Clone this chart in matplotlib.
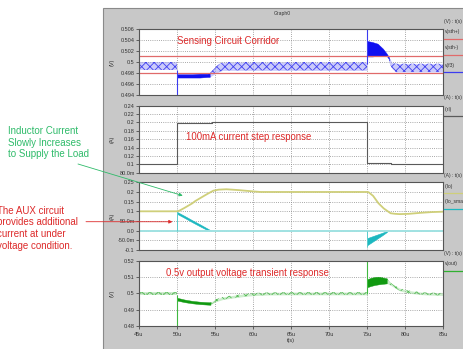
import matplotlib
matplotlib.use('Agg')
import matplotlib.pyplot as plt
from matplotlib.patches import Rectangle
from matplotlib.lines import Line2D

plt.rcParams['font.family'] = ['Liberation Sans', 'DejaVu Sans']
plt.rcParams['hatch.linewidth'] = 0.6

# ---------------- data (time in us) ----------------
x_ticks = [45, 50, 55, 60, 65, 70, 75, 80, 85]
x_ticklabels = ['45u', '50u', '55u', '60u', '65u', '70u', '75u', '80u', '85u']

# panel 1 : v(f3) with sensing corridor
p1_yticks = [0.494, 0.496, 0.498, 0.5, 0.502, 0.504, 0.506]
p1_ylabels = ['0.494', '0.496', '0.498', '0.5', '0.502', '0.504', '0.506']
vsth_plus = 0.501
vsth_minus = 0.498
vf3_rip1_t = [45, 50]
vf3_rip1_up = [0.5000, 0.5000]
vf3_rip1_lo = [0.4985, 0.4985]
vf3_den1_t = [50, 51, 52, 53, 54, 54.3]
vf3_den1_up = [0.4978, 0.4978, 0.4978, 0.4979, 0.4979, 0.4980]
vf3_den1_lo = [0.4972, 0.4972, 0.4972, 0.4972, 0.4973, 0.4973]
vf3_rip2_t = [54.3, 54.8, 55.3, 56.0, 58.0, 75.0]
vf3_rip2_up = [0.4980, 0.4987, 0.4994, 0.5000, 0.5000, 0.5000]
vf3_rip2_lo = [0.4973, 0.4977, 0.4981, 0.4985, 0.4985, 0.4985]
vf3_den2_t = [75, 75.7, 76.4, 77.1, 77.6, 77.9]
vf3_den2_up = [0.5038, 0.5036, 0.5033, 0.5024, 0.5015, 0.5008]
vf3_den2_lo = [0.5010, 0.5010, 0.5011, 0.5011, 0.5011, 0.5005]
vf3_rip3_t = [77.9, 78.3, 78.8, 85.0]
vf3_rip3_up = [0.5008, 0.4999, 0.4997, 0.4997]
vf3_rip3_lo = [0.5000, 0.4988, 0.4982, 0.4982]
vf3_spike_t = [50, 75]
vf3_spike_lo = [0.4938, 0.4997]
vf3_spike_hi = [0.4985, 0.5062]

# panel 2 : i(rl) load current step
p2_yticks = [0.08, 0.10, 0.12, 0.14, 0.16, 0.18, 0.20, 0.22, 0.24]
p2_ylabels = ['80.0m', '0.1', '0.12', '0.14', '0.16', '0.18', '0.2', '0.22', '0.24']
irl_t = [45, 50, 50, 54.6, 54.6, 75, 75, 78.2, 78.2, 85]
irl_i = [0.1, 0.1, 0.1976, 0.1976, 0.2, 0.2, 0.1024, 0.1024, 0.1, 0.1]

# panel 3 : i(lo) and i(lo_smart)
p3_yticks = [-0.1, -0.05, 0.0, 0.05, 0.1, 0.15, 0.2, 0.25]
p3_ylabels = ['-0.1', '-50.0m', '0.0', '50.0m', '0.1', '0.15', '0.2', '0.25']
ilo_t = [45, 50, 50.3, 51, 52, 52.4, 53, 54, 54.8, 55.5, 56.5, 58, 60, 61, 75,
         75.2, 75.8, 76.5, 77.2, 78.1, 78.7, 79.3, 80.5, 82, 83.5, 85]
ilo_i = [0.1, 0.1, 0.103, 0.118, 0.141, 0.153, 0.167, 0.19, 0.207, 0.212, 0.214, 0.21,
         0.203, 0.2, 0.2, 0.199, 0.18, 0.142, 0.115, 0.09, 0.087, 0.0855, 0.087,
         0.092, 0.096, 0.098]
ilos_base_t = [45, 85]
ilos_base_i = [0.0, 0.0]
ilos_b1_t = [50, 51, 52, 53, 54, 54.5]
ilos_b1_up = [0.097, 0.076, 0.054, 0.033, 0.011, 0.0]
ilos_b1_lo = [0.087, 0.066, 0.044, 0.023, 0.003, 0.0]
ilos_b2_t = [75, 75.5, 76, 76.5, 77, 77.5, 77.8]
ilos_b2_up = [-0.039, -0.032, -0.025, -0.018, -0.011, -0.004, 0.0]
ilos_b2_lo = [-0.076, -0.063, -0.050, -0.037, -0.024, -0.010, 0.0]
ilos_spike_t = [50, 75]
ilos_spike_lo = [0.0, -0.083]
ilos_spike_hi = [0.097, 0.0]

# panel 4 : v(out)
p4_yticks = [0.48, 0.49, 0.50, 0.51, 0.52]
p4_ylabels = ['0.48', '0.49', '0.5', '0.51', '0.52']
vout_rip1_t = [45, 50]
vout_rip1_up = [0.5010, 0.5010]
vout_rip1_lo = [0.4990, 0.4990]
vout_den1_t = [50, 51, 52, 53, 54, 54.4]
vout_den1_up = [0.4973, 0.4962, 0.4954, 0.4949, 0.4946, 0.4945]
vout_den1_lo = [0.4956, 0.4946, 0.4939, 0.4934, 0.4931, 0.4930]
vout_rip2_t = [54.4, 55.0, 56.0, 57.4, 59.0, 60.0, 62.0, 65.0, 75.0]
vout_rip2_up = [0.4945, 0.4963, 0.4978, 0.4988, 0.4998, 0.5002, 0.5006, 0.5008, 0.5008]
vout_rip2_lo = [0.4930, 0.4947, 0.4962, 0.4972, 0.4982, 0.4986, 0.4990, 0.4991, 0.4991]
vout_den2_t = [75, 75.5, 76, 76.5, 77, 77.6]
vout_den2_up = [0.5086, 0.5095, 0.5100, 0.5102, 0.5098, 0.5092]
vout_den2_lo = [0.5037, 0.5045, 0.5051, 0.5055, 0.5058, 0.5061]
vout_rip3_t = [77.6, 78.0, 78.5, 79.3, 80.2, 81, 82, 83, 85]
vout_rip3_up = [0.5092, 0.5068, 0.5052, 0.5032, 0.5020, 0.5014, 0.5008, 0.5005, 0.5002]
vout_rip3_lo = [0.5061, 0.5052, 0.5038, 0.5016, 0.5004, 0.4998, 0.4993, 0.4990, 0.4987]
vout_spike_t = [50, 75]
vout_spike_lo = [0.4795, 0.4995]
vout_spike_hi = [0.4990, 0.5205]

# ---------------- figure ----------------
W, H = 464, 349
fig = plt.figure(figsize=(W / 100, H / 100), dpi=100)
fig.patch.set_facecolor('white')


def rect(l, t, r, b):
    return [l / W, 1 - b / H, (r - l) / W, (b - t) / H]


def fx(x):
    return x / W


def fy(y):
    return 1 - y / H


bg = fig.add_axes([0, 0, 1, 1], zorder=-5)
bg.set_xlim(0, W)
bg.set_ylim(H, 0)
bg.axis('off')
bg.add_patch(Rectangle((103, 8), W - 103 + 3, H - 8 + 3, facecolor='#c8c8c8',
                       edgecolor='#8a8a8a', lw=0.8))

L, R = 139, 443
ax1 = fig.add_axes(rect(L, 28.7, R, 95.3))
ax2 = fig.add_axes(rect(L, 105.7, R, 172.7))
ax3 = fig.add_axes(rect(L, 182.3, R, 250))
ax4 = fig.add_axes(rect(L, 260.7, R, 326))


def style(ax, ylim, yticks, ylabels, unit, bottom=False):
    ax.set_facecolor('white')
    ax.set_xlim(45, 85)
    ax.set_ylim(*ylim)
    ax.set_xticks(x_ticks)
    ax.set_yticks(yticks)
    ax.set_yticklabels(ylabels)
    ax.grid(True, color='#8c8c8c', ls=(0, (1, 1.6)), lw=0.6)
    ax.set_axisbelow(True)
    ax.tick_params(axis='y', labelsize=4, length=2, width=0.5, pad=1,
                   colors='#333333')
    if bottom:
        ax.set_xticklabels(x_ticklabels)
        ax.tick_params(axis='x', labelsize=4, length=2, width=0.5, pad=2,
                       colors='#333333')
    else:
        ax.set_xticklabels([])
        ax.tick_params(axis='x', length=0)
    for s in ax.spines.values():
        s.set_color('#555555')
        s.set_linewidth(0.8)
    pos = ax.get_position()
    fig.text(fx(112), (pos.y0 + pos.y1) / 2, unit, rotation=90, fontsize=4,
             color='#333333', ha='center', va='center')


def ripple_band(ax, t, lo, up, line_color, fill_color):
    ax.fill_between(t, lo, up, color=fill_color, lw=0, alpha=0.45)
    ax.fill_between(t, lo, up, facecolor='none', edgecolor=line_color,
                    hatch='xxxx', lw=0)


style(ax1, (0.494, 0.506), p1_yticks, p1_ylabels, '(V)')
style(ax2, (0.08, 0.24), p2_yticks, p2_ylabels, '(A)')
style(ax3, (-0.1, 0.25), p3_yticks, p3_ylabels, '(A)')
style(ax4, (0.48, 0.52), p4_yticks, p4_ylabels, '(V)', bottom=True)

# panel 1
c_red = '#e06a6a'
ax1.axhline(vsth_plus, color=c_red, lw=0.9)
ax1.axhline(vsth_minus, color=c_red, lw=0.9)
blue_rip = '#4040f0'
blue_den = '#1010f0'
for t, up, lo in [(vf3_rip1_t, vf3_rip1_up, vf3_rip1_lo),
                  (vf3_rip2_t, vf3_rip2_up, vf3_rip2_lo),
                  (vf3_rip3_t, vf3_rip3_up, vf3_rip3_lo)]:
    ripple_band(ax1, t, lo, up, blue_rip, '#8c8cf5')
for t, up, lo in [(vf3_den1_t, vf3_den1_up, vf3_den1_lo),
                  (vf3_den2_t, vf3_den2_up, vf3_den2_lo)]:
    ax1.fill_between(t, lo, up, color=blue_den, lw=0.3, edgecolor=blue_den)
ax1.vlines(vf3_spike_t, vf3_spike_lo, vf3_spike_hi, color='#3c3cf0', lw=0.8,
           clip_on=True)

# panel 2
ax2.plot(irl_t, irl_i, color='#5a5a5a', lw=0.8)

# panel 3
ax3.plot(ilos_base_t, ilos_base_i, color='#a0e2e2', lw=1.4)
ax3.plot(ilo_t, ilo_i, color='#cfcf7a', lw=1.3)
c_cyan = '#1cb8c0'
for t, up, lo in [(ilos_b1_t, ilos_b1_up, ilos_b1_lo),
                  (ilos_b2_t, ilos_b2_up, ilos_b2_lo)]:
    ax3.fill_between(t, lo, up, color=c_cyan, lw=0.4, edgecolor=c_cyan)
ax3.vlines(ilos_spike_t, ilos_spike_lo, ilos_spike_hi, color='#5ccccc', lw=0.7)

# panel 4
green_rip = '#55bb55'
green_den = '#119a11'
for t, up, lo in [(vout_rip1_t, vout_rip1_up, vout_rip1_lo),
                  (vout_rip2_t, vout_rip2_up, vout_rip2_lo),
                  (vout_rip3_t, vout_rip3_up, vout_rip3_lo)]:
    ripple_band(ax4, t, lo, up, green_rip, '#90d890')
for t, up, lo in [(vout_den1_t, vout_den1_up, vout_den1_lo),
                  (vout_den2_t, vout_den2_up, vout_den2_lo)]:
    ax4.fill_between(t, lo, up, color=green_den, lw=0.3, edgecolor=green_den)
ax4.vlines(vout_spike_t, vout_spike_lo, vout_spike_hi, color='#40b840', lw=0.8)
ax4.set_xlabel('t(s)', fontsize=4, color='#333333', labelpad=1)

# title
fig.text(fx(282), fy(14), 'Graph0', fontsize=3.6, color='#333333', ha='center',
         va='center')

# right-side legend
legend_items = [
    (21, '(V) : t(s)', None), (32, 'v(sth+)', c_red), (48, 'v(sth-)', c_red),
    (65, 'v(f3)', '#3c3cf0'),
    (98, '(A) : t(s)', None), (109, 'i(rl)', '#5a5a5a'),
    (176, '(A) : t(s)', None), (186, 'i(lo)', '#cfcf7a'),
    (202, 'i(lo_smart)', '#1cb8c0'),
    (254, '(V) : t(s)', None), (264, 'v(out)', '#30b030'),
]
for y, s, c in legend_items:
    fig.text(fx(444.5), fy(y), s, fontsize=3.6, color='#333333', ha='left',
             va='center', clip_on=False)
    if c is not None:
        fig.add_artist(Line2D([fx(444), fx(466)], [fy(y + 7), fy(y + 7)],
                              transform=fig.transFigure, color=c, lw=0.9))

# annotations
c_ann_red = '#dd2a2a'
c_ann_green = '#2fbb6a'
fig.text(fx(177), fy(41.5), 'Sensing Circuit Corridor', fontsize=6.9,
         color=c_ann_red, va='center')
fig.text(fx(186), fy(137), '100mA current step response', fontsize=6.9,
         color=c_ann_red, va='center')
fig.text(fx(166), fy(273.5), '0.5v output voltage transient response',
         fontsize=6.9, color=c_ann_red, va='center')

for y, s in [(130.7, 'Inductor Current'), (143, 'Slowly Increases'),
             (154.3, 'to Supply the Load')]:
    fig.text(fx(8), fy(y), s, fontsize=7.0, color=c_ann_green, va='center')
for y, s in [(210.7, 'The AUX circuit'), (222.3, 'provides additional'),
             (234, 'current at under'), (245.7, 'voltage condition.')]:
    fig.text(fx(-3), fy(y), s, fontsize=7.0, color=c_ann_red, va='center')

ax3.annotate('', xy=(50.75, 0.181), xycoords='data',
             xytext=(fx(78), fy(164)), textcoords='figure fraction',
             arrowprops=dict(arrowstyle='-|>', color=c_ann_green, lw=0.6,
                             mutation_scale=5, shrinkA=0, shrinkB=0),
             annotation_clip=False)
ax3.annotate('', xy=(49.4, 0.046), xycoords='data',
             xytext=(fx(86), fy(221.7)), textcoords='figure fraction',
             arrowprops=dict(arrowstyle='-|>', color=c_ann_red, lw=0.6,
                             mutation_scale=5, shrinkA=0, shrinkB=0),
             annotation_clip=False)

fig.savefig('out.png', dpi=100)
